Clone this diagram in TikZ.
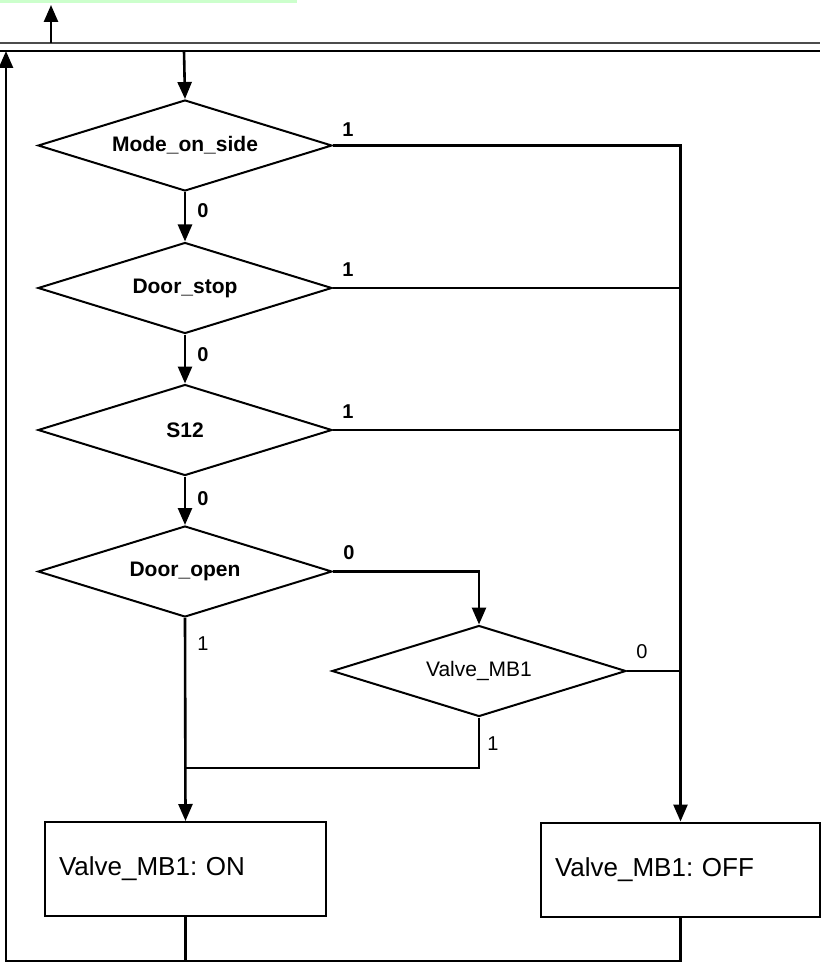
\documentclass[tikz,border=0pt]{standalone}
\usepackage{fontspec}
\setmainfont{Liberation Sans}
\usetikzlibrary{shapes.geometric,arrows.meta}
\definecolor{lgreen}{HTML}{CCFFCC}
\begin{document}
\frenchspacing
\begin{tikzpicture}[x=1pt,y=-1pt,
  dec/.style={diamond,draw,line width=2pt,minimum width=294pt,minimum height=91pt,aspect=3.2,inner sep=1pt,font=\bfseries\fontsize{21}{25}\selectfont},
  decn/.style={dec,font=\fontsize{21}{25}\selectfont},
  act/.style={draw,line width=2pt,minimum height=94pt,inner ysep=0pt,inner xsep=14pt,align=left,font=\fontsize{26}{30}\selectfont},
  conn/.style={line width=2.6pt},
  arr/.style={conn,-{Triangle[width=14pt,length=17pt]}},
  lab/.style={font=\bfseries\fontsize{20}{24}\selectfont,inner sep=0pt},
  labn/.style={font=\fontsize{20}{24}\selectfont,inner sep=0pt},
  bus/.style={line width=2.4pt}
  ]
\useasboundingbox (0,0) rectangle (820,965);
\fill[white] (0,0) rectangle (820,965);
\fill[lgreen] (0,0) rectangle (297,3);

% bus lines
\coordinate (busAL) at (0,43);
\coordinate (busAR) at (820,43);
\coordinate (busBL) at (0,51);
\coordinate (busBR) at (820,51);
\draw[bus,black!70] (busAL) -- (busAR);
\draw[bus] (busBL) -- (busBR);
\coordinate (outS) at (51,43);
\coordinate (outT) at (51,5);
\draw[arr] (outS) -- (outT);

% decisions
\node[dec] (d1) at (185,145.5) {Mode\_on\_side};
\node[dec] (d2) at (185,288) {Door\_stop};
\node[dec] (d3) at (185,430) {S12};
\node[dec] (d4) at (185,571.5) {Door\_open};
\node[decn] (d5) at (479,671) {Valve\_MB1};

% actions
\node[act,minimum width=281pt,text width=253pt] (on) at (185.5,869) {Valve\_MB1: ON};
\node[act,minimum width=279pt,text width=251pt] (off) at (680.5,869.5) {Valve\_MB1: OFF};

% entry
\coordinate (entry) at (184,51);
\draw[arr] (entry) -- (d1.north);

% main chain
\draw[arr] (d1.south) -- (d2.north);
\draw[arr] (d2.south) -- (d3.north);
\draw[arr] (d3.south) -- (d4.north);
\draw[arr] (d4.south) -- (on.north);

% right rail
\draw[arr] (d1.east) -| (off.north);
\draw[conn] (d2.east) -- (d2.east -| off.north);
\draw[conn] (d3.east) -- (d3.east -| off.north);
\draw[conn] (d5.east) -- (d5.east -| off.north);

% door open branch
\draw[arr] (d4.east) -| (d5.north);
\coordinate (join) at (185.5,768);
\draw[conn] (d5.south) |- (join);

% loop back
\coordinate (botL) at (6,961);
\coordinate (loopT) at (6,51);
\draw[conn] (on.south) -- (on.south |- botL);
\draw[arr] (off.south) |- (botL) -- (loopT);

% labels
\node[lab] (l1) at ([shift={(15,-16)}]d1.east) {1};
\node[lab] (l2) at ([shift={(15,-18)}]d2.east) {1};
\node[lab] (l3) at ([shift={(15,-18)}]d3.east) {1};
\node[lab] (l4) at ([shift={(16,-19)}]d4.east) {0};
\node[lab] (m1) at ([shift={(18,19)}]d1.south) {0};
\node[lab] (m2) at ([shift={(18,20)}]d2.south) {0};
\node[lab] (m3) at ([shift={(18,22)}]d3.south) {0};
\node[labn] (m4) at ([shift={(18,26)}]d4.south) {1};
\node[labn] (n1) at ([shift={(15,-19)}]d5.east) {0};
\node[labn] (n2) at ([shift={(14,26)}]d5.south) {1};
\end{tikzpicture}
\end{document}
